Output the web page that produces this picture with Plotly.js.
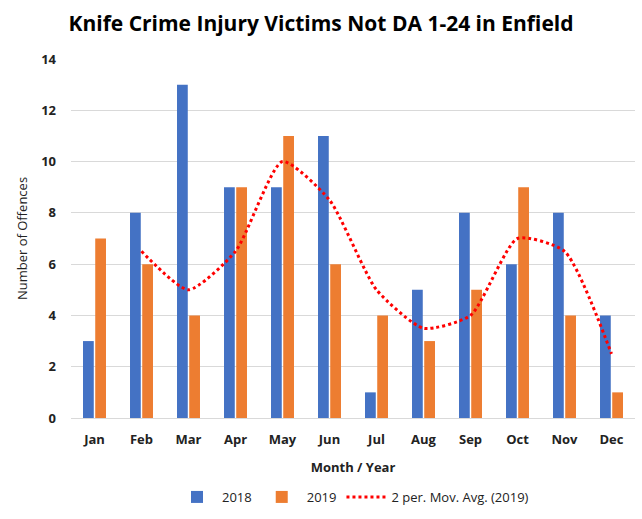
<!DOCTYPE html>
<html>
<head>
<meta charset="utf-8">
<script src="https://cdn.plot.ly/plotly-3.0.1.min.js"></script>
<style>html,body{margin:0;padding:0;background:#fff;}#chart{width:642px;height:519px;}</style>
</head>
<body>
<div id="chart"></div>
<script>
const months = ["Jan","Feb","Mar","Apr","May","Jun","Jul","Aug","Sep","Oct","Nov","Dec"];
const values2018 = [3, 8, 13, 9, 9, 11, 1, 5, 8, 6, 8, 4];
const values2019 = [7, 6, 4, 9, 11, 6, 4, 3, 5, 9, 4, 1];
const movAvgMonths = ["Feb","Mar","Apr","May","Jun","Jul","Aug","Sep","Oct","Nov","Dec"];
const movAvg2019 = [6.5, 5, 6.5, 10, 8.5, 5, 3.5, 4, 7, 6.5, 2.5];
const yTicks = [0, 2, 4, 6, 8, 10, 12, 14];

const fontFam = "Open Sans, Noto Sans, sans-serif";

const data = [
  {type: "bar", name: "2018", x: months, y: values2018, marker: {color: "#4472C4"}},
  {type: "bar", name: "2019", x: months, y: values2019, marker: {color: "#ED7D31"}},
  {type: "scatter", mode: "lines", name: "2 per. Mov. Avg. (2019)", x: movAvgMonths, y: movAvg2019,
   line: {color: "#FF0000", width: 3, dash: "dot", shape: "spline", smoothing: 0.6}}
];

const layout = {
  width: 642, height: 519,
  margin: {l: 71, r: 7, t: 59, b: 101},
  paper_bgcolor: "#fff", plot_bgcolor: "#fff",
  font: {family: fontFam, color: "#000"},
  title: {text: "<b>Knife Crime Injury Victims Not DA 1-24 in Enfield</b>", x: 0.5, xanchor: "center", y: 0.955, yanchor: "middle",
          font: {size: 21, color: "#000", family: fontFam}},
  barmode: "group", bargap: 0.48, bargroupgap: 0.12,
  xaxis: {
    type: "category", tickfont: {size: 13, color: "#222", weight: 700}, showgrid: false, zeroline: false,
    showline: false, ticks: "", ticklabelstandoff: 12,
    title: {text: "<b>Month / Year</b>", font: {size: 13, color: "#222"}, standoff: 15}
  },
  yaxis: {
    range: [0, 14], tickvals: yTicks, ticktext: yTicks.map(String),
    tickfont: {size: 13, color: "#222", weight: 700}, gridcolor: "#D9D9D9", gridwidth: 1,
    zeroline: true, zerolinecolor: "#D9D9D9", zerolinewidth: 1, showline: false, ticks: "",
    ticklabelstandoff: 14,
    title: {text: "Number of Offences", font: {size: 13, color: "#222"}, standoff: 10}
  },
  showlegend: true,
  legend: {orientation: "h", x: 0.5, xanchor: "center", y: -0.22, yanchor: "middle",
           font: {size: 13, color: "#222"}, traceorder: "normal", itemwidth: 40}
};

Plotly.newPlot("chart", data, layout, {staticPlot: true, displayModeBar: false});
</script>
</body>
</html>
